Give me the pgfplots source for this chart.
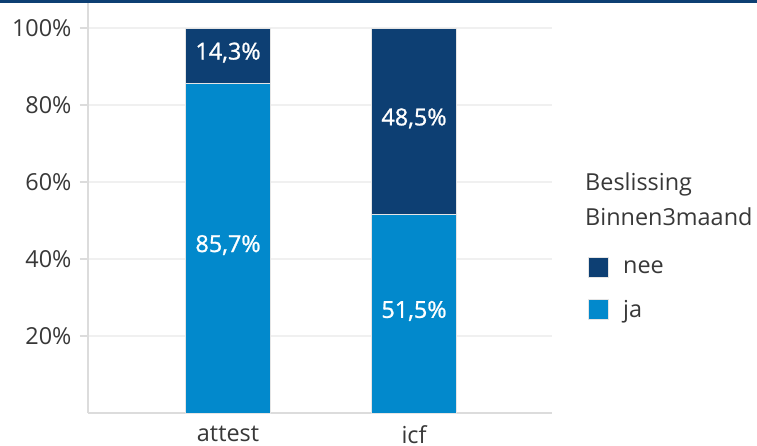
\documentclass[border=0pt]{standalone}
\usepackage{fontspec}
\setmainfont{Open Sans}
\newfontfamily\labfont{Open Sans}[FakeBold=1]
\usepackage{pgfplots}
\pgfplotsset{compat=1.18}
\definecolor{darkblue}{HTML}{0D3F73}
\definecolor{lightblue}{HTML}{0289CC}
\definecolor{txt}{HTML}{383838}
\definecolor{axisgray}{HTML}{DCDCDC}
\definecolor{gridgray}{HTML}{F0F0F0}
\newcommand{\fs}{\fontsize{23.5}{28}\selectfont}
\begin{document}
\begin{tikzpicture}[font=\fs]
\path[use as bounding box] (-88bp,-33bp) rectangle (669bp,413bp);
\begin{axis}[
  at={(0,0)}, anchor=south west,
  scale only axis, width=464bp, height=410bp,
  xmin=-0.753, xmax=1.742, ymin=0, ymax=106.5,
  ybar stacked, bar width=85bp,
  xtick={0,1}, xticklabels={attest,icf},
  x tick style={draw=none},
  ytick={20,40,60,80,100},
  yticklabel={\pgfmathprintnumber{\tick}\%},
  /pgf/number format/assume math mode=true,
  axis x line*=bottom, axis y line*=left,
  axis line style={axisgray, line width=2bp},
  ymajorgrids, grid style={gridgray, line width=1.5bp},
  tick align=outside, major tick length=8bp,
  y tick style={axisgray, line width=1.5bp},
  tick label style={txt, font=\fs},
  yticklabel style={xshift=-5bp},
  xticklabel style={inner sep=0pt, text depth=0pt, yshift=-4.5bp},
  clip=false,
  reverse legend,
  legend style={at={(1.0711,0.3855)}, anchor=north west, draw=none, fill=none,
    font=\fs, text=txt, row sep=20bp,
    /tikz/every odd column/.append style={column sep=12bp}},
  legend cell align=left,
  legend image code/.code={\fill[#1] (0bp,-10bp) rectangle (20bp,10bp);},
]
\addplot[fill=lightblue, draw=white!90!black, line width=1bp] coordinates {(0,85.7) (1,51.5)};
\addlegendentry{ja}
\addplot[fill=darkblue, draw=white!90!black, line width=1bp] coordinates {(0,14.3) (1,48.5)};
\addlegendentry{nee}
\node[anchor=base west, txt, inner sep=0pt] at (rel axis cs:1.0711,0.5415) {Beslissing};
\node[anchor=base west, txt, inner sep=0pt] at (rel axis cs:1.0711,0.4561) {Binnen3maand};
\end{axis}
\begin{axis}[
  at={(0,0)}, anchor=south west,
  scale only axis, width=464bp, height=410bp,
  xmin=-0.753, xmax=1.742, ymin=0, ymax=106.5,
  axis lines=none, clip=false,
]
\addplot[draw=none, mark=none, nodes near coords, point meta=explicit symbolic,
  every node near coord/.style={anchor=base, yshift=-4bp, text=white, inner sep=0pt,
  font=\fs\labfont}]
  coordinates {(0,42.85)[85,7\%] (0,92.85)[14,3\%] (1,25.75)[51,5\%] (1,75.75)[48,5\%]};
\end{axis}
\fill[darkblue] (-88bp,410bp) rectangle (669bp,413bp);
\end{tikzpicture}
\end{document}
